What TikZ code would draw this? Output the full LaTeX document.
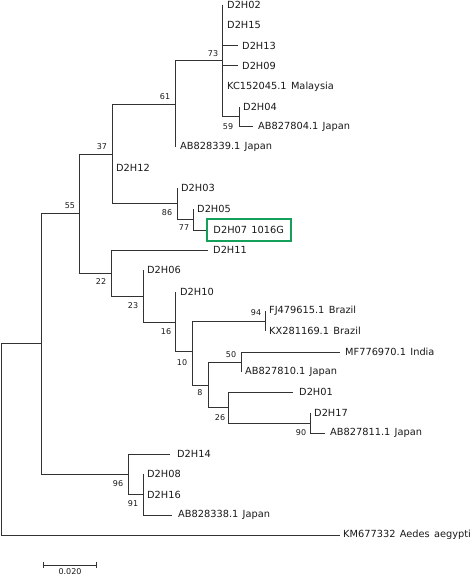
\documentclass[tikz,border=0pt]{standalone}
\usepackage{fontspec}
\setmainfont{DejaVu Sans}[WordSpace=1.4]
\definecolor{boxgreen}{RGB}{20,160,90}
\definecolor{linegray}{RGB}{50,50,50}
\begin{document}
\begin{tikzpicture}[x=1pt,y=-1pt,
  br/.style={draw=linegray, line width=1pt},
  leaf/.style={anchor=west, inner sep=0pt, text=black!90, font=\fontsize{9.8}{11}\selectfont},
  bs/.style={inner sep=0pt, text=black!90, font=\fontsize{8}{9}\selectfont}]
\useasboundingbox (0,0) rectangle (474,577);
% internal nodes
\coordinate (root) at (1.5,439);
\coordinate (nA) at (41,343);
\coordinate (n55) at (79,213);
\coordinate (n37) at (112,155);
\coordinate (n61) at (175,105);
\coordinate (n73) at (222,61);
\coordinate (n59) at (239,117);
\coordinate (n86) at (177,203);
\coordinate (n77) at (193,219);
\coordinate (n22) at (111,273);
\coordinate (n23) at (143,296);
\coordinate (n16) at (175,322);
\coordinate (n10) at (192,351);
\coordinate (n94) at (265,321);
\coordinate (n8) at (208,385);
\coordinate (n50) at (241,362);
\coordinate (n26) at (228,407);
\coordinate (n90) at (310,423);
\coordinate (n96) at (128,474);
\coordinate (n91) at (143,494.5);
% leaf ends
\coordinate (l02) at (222,5);
\coordinate (l15) at (222,25);
\coordinate (l13) at (238,46);
\coordinate (l09) at (238,66);
\coordinate (lKC) at (222,87);
\coordinate (l04) at (239,107);
\coordinate (lAB804) at (253,127);
\coordinate (lAB339) at (175,147);
\coordinate (l12) at (112,168);
\coordinate (l03) at (177,188);
\coordinate (l05) at (193,209);
\coordinate (l07) at (206,230);
\coordinate (l11) at (208,250);
\coordinate (l06) at (143,270);
\coordinate (l10) at (175,292);
\coordinate (lFJ) at (265,311);
\coordinate (lKX) at (265,331);
\coordinate (lMF) at (340,352);
\coordinate (lAB810) at (241,372);
\coordinate (l01) at (293,392);
\coordinate (l17) at (310,413);
\coordinate (lAB811) at (325,433);
\coordinate (l14) at (170,454);
\coordinate (l08) at (143,474);
\coordinate (l16) at (143,494.5);
\coordinate (lAB338) at (172,515);
\coordinate (lKM) at (340,535);
% branches
\draw[br] (root) |- (nA);
\draw[br] (root) |- (lKM);
\draw[br] (nA) |- (n55);
\draw[br] (nA) |- (n96);
\draw[br] (n55) |- (n37);
\draw[br] (n55) |- (n22);
\draw[br] (n37) |- (n61);
\draw[br] (n37) |- (n86);
\draw[br] (n61) |- (n73);
\draw[br] (n61) |- (lAB339);
\draw[br] (n73) |- (l02);
\draw[br] (n73) |- (l13);
\draw[br] (n73) |- (l09);
\draw[br] (n73) |- (n59);
\draw[br] (n59) |- (l04);
\draw[br] (n59) |- (lAB804);
\draw[br] (n86) |- (l03);
\draw[br] (n86) |- (n77);
\draw[br] (n77) |- (l05);
\draw[br] (n77) |- (l07);
\draw[br] (n22) |- (l11);
\draw[br] (n22) |- (n23);
\draw[br] (n23) |- (l06);
\draw[br] (n23) |- (n16);
\draw[br] (n16) |- (l10);
\draw[br] (n16) |- (n10);
\draw[br] (n10) |- (n94);
\draw[br] (n10) |- (n8);
\draw[br] (n94) |- (lFJ);
\draw[br] (n94) |- (lKX);
\draw[br] (n8) |- (n50);
\draw[br] (n8) |- (n26);
\draw[br] (n50) |- (lMF);
\draw[br] (n50) |- (lAB810);
\draw[br] (n26) |- (l01);
\draw[br] (n26) |- (n90);
\draw[br] (n90) |- (l17);
\draw[br] (n90) |- (lAB811);
\draw[br] (n96) |- (l14);
\draw[br] (n96) |- (n91);
\draw[br] (n91) |- (l08);
\draw[br] (n91) |- (lAB338);
% leaf labels
\node[leaf] (t02) at ([xshift=5pt]l02) {D2H02};
\node[leaf] (t15) at ([xshift=5pt]l15) {D2H15};
\node[leaf] (t13) at ([xshift=4pt]l13) {D2H13};
\node[leaf] (t09) at ([xshift=4pt]l09) {D2H09};
\node[leaf] (tKC) at ([xshift=5pt]lKC) {KC152045.1 Malaysia};
\node[leaf] (t04) at ([xshift=4pt]l04) {D2H04};
\node[leaf] (tAB804) at ([xshift=5pt]lAB804) {AB827804.1 Japan};
\node[leaf] (tAB339) at ([xshift=5pt]lAB339) {AB828339.1 Japan};
\node[leaf] (t12) at ([xshift=4pt]l12) {D2H12};
\node[leaf] (t03) at ([xshift=4pt]l03) {D2H03};
\node[leaf] (t05) at ([xshift=4pt]l05) {D2H05};
\node[leaf, draw=boxgreen, line width=1.5pt, minimum width=84pt, minimum height=22pt, inner sep=0pt] (t07) at (l07) {D2H07 1016G};
\node[leaf] (t11) at ([xshift=5pt]l11) {D2H11};
\node[leaf] (t06) at ([xshift=4pt]l06) {D2H06};
\node[leaf] (t10) at ([xshift=5pt]l10) {D2H10};
\node[leaf] (tFJ) at ([xshift=4pt]lFJ) {FJ479615.1 Brazil};
\node[leaf] (tKX) at ([xshift=4pt]lKX) {KX281169.1 Brazil};
\node[leaf] (tMF) at ([xshift=5pt]lMF) {MF776970.1 India};
\node[leaf] (tAB810) at ([xshift=4pt]lAB810) {AB827810.1 Japan};
\node[leaf] (t01) at ([xshift=6pt]l01) {D2H01};
\node[leaf] (t17) at ([xshift=4pt]l17) {D2H17};
\node[leaf] (tAB811) at ([xshift=5pt]lAB811) {AB827811.1 Japan};
\node[leaf] (t14) at ([xshift=7pt]l14) {D2H14};
\node[leaf] (t08) at ([xshift=4pt]l08) {D2H08};
\node[leaf] (t16) at ([xshift=4pt]l16) {D2H16};
\node[leaf] (tAB338) at ([xshift=6pt]lAB338) {AB828338.1 Japan};
\node[leaf] (tKM) at ([xshift=3pt]lKM) {KM677332 Aedes aegypti};
% bootstrap values
\node[bs] (b73) at (213,54) {73};
\node[bs] (b61) at (165,97) {61};
\node[bs] (b59) at (228,127) {59};
\node[bs] (b37) at (102,147) {37};
\node[bs] (b55) at (70,206) {55};
\node[bs] (b86) at (167,213) {86};
\node[bs] (b77) at (184,228) {77};
\node[bs] (b22) at (101,282) {22};
\node[bs] (b23) at (133,306) {23};
\node[bs] (b16) at (166,332) {16};
\node[bs] (b94) at (256,313) {94};
\node[bs] (b10) at (182,363) {10};
\node[bs] (b50) at (231,355) {50};
\node[bs] (b8) at (200,393) {8};
\node[bs] (b26) at (220,418) {26};
\node[bs] (b90) at (301,433) {90};
\node[bs] (b96) at (118,484) {96};
\node[bs] (b91) at (133,504) {91};
% scale bar
\coordinate (s1) at (43,565);
\coordinate (s2) at (96,565);
\draw[br] (s1) -- (s2);
\draw[br] ([yshift=-3pt]s1) -- ([yshift=3pt]s1);
\draw[br] ([yshift=-3pt]s2) -- ([yshift=3pt]s2);
\node[bs] (sbl) at (70,572) {0.020};
\end{tikzpicture}
\end{document}
